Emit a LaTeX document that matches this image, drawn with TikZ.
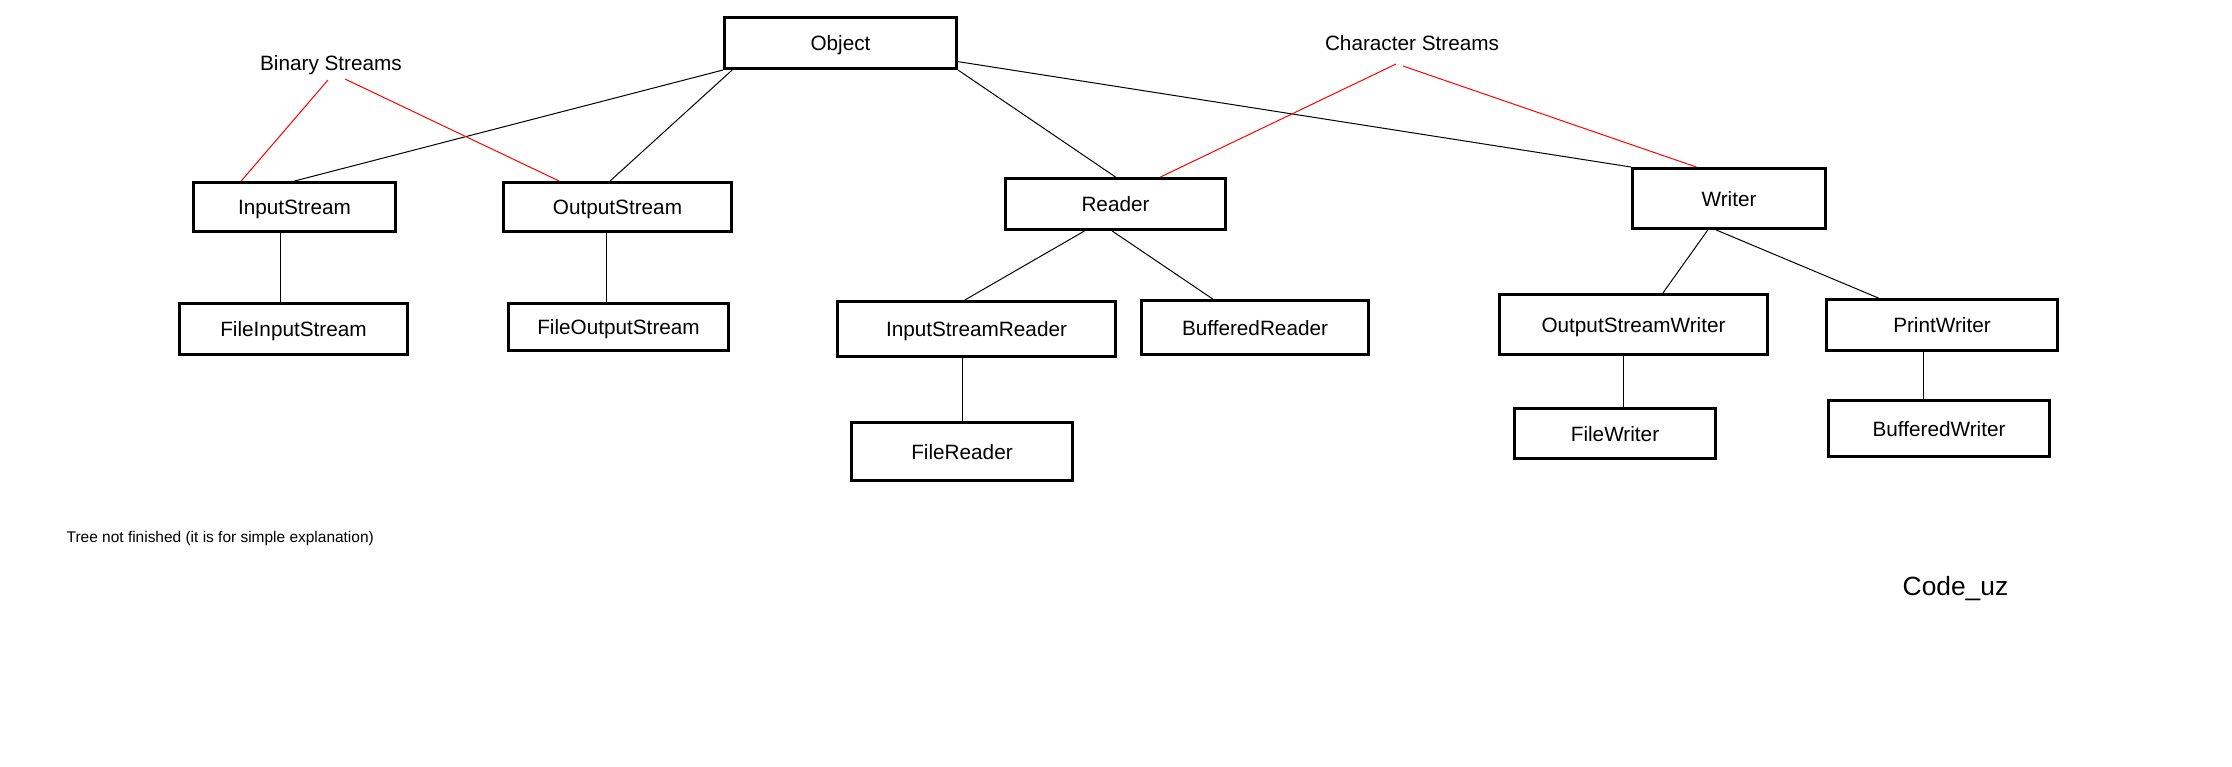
\documentclass[tikz,border=0pt]{standalone}
\usepackage{fontspec}
\setmainfont{Liberation Sans}
\usepackage{tikz}

\begin{document}
\begin{tikzpicture}[x=0.1mm, y=-0.1mm,
		box/.style={draw, line width=0.3mm, inner sep=0pt, text height=1.5mm, text depth=0mm, font=\fontsize{5.9}{7}\selectfont},
		link/.style={line width=0.1mm},
		redlink/.style={red, line width=0.1mm},
		note/.style={inner sep=0pt, anchor=base, font=\fontsize{5.9}{7}\selectfont}]
				\useasboundingbox (0,0) rectangle (2232,766);

				% top of the tree
				\draw (840.5,43) node[box, minimum width=23.2mm, minimum height=5.1mm] (object) {Object};

				% byte side
				\draw (294.5,207) node[box, minimum width=20.2mm, minimum height=4.9mm] (instream) {InputStream};
				\draw (617.5,207) node[box, minimum width=22.8mm, minimum height=4.9mm] (outstream) {OutputStream};
				\draw (293.5,329) node[box, minimum width=22.8mm, minimum height=5.1mm] (fistream) {FileInputStream};
				\draw (618.5,327) node[box, minimum width=22mm, minimum height=4.7mm] (fostream) {FileOutputStream};

				% char side
				\draw (1115.5,204) node[box, minimum width=22mm, minimum height=5.1mm] (reader) {Reader};
				\draw (976.5,329) node[box, minimum width=27.8mm, minimum height=5.5mm] (isreader) {InputStreamReader};
				\draw (1255,327.5) node[box, minimum width=22.7mm, minimum height=5.4mm] (breader) {BufferedReader};
				\draw (962,451.5) node[box, minimum width=22.1mm, minimum height=5.8mm] (freader) {FileReader};

				\draw (1729,198.5) node[box, minimum width=19.3mm, minimum height=6mm] (writer) {Writer};
				\draw (1633.5,324.5) node[box, minimum width=26.8mm, minimum height=6mm] (oswriter) {OutputStreamWriter};
				\draw (1942,325) node[box, minimum width=23.1mm, minimum height=5.1mm] (pwriter) {PrintWriter};
				\draw (1615,433.5) node[box, minimum width=20.1mm, minimum height=5mm] (fwriter) {FileWriter};
				\draw (1939,428.5) node[box, minimum width=22.1mm, minimum height=5.6mm] (bwriter) {BufferedWriter};

				% labels
				\draw (331,70) node[note] (binlabel) {Binary Streams};
				\draw (1412,50) node[note] (charlabel) {Character Streams};
				\draw (66,542) node[note, anchor=base west, font=\fontsize{4.4}{5}\selectfont] (treenote) {Tree not finished (it is for simple explanation)};
				\draw (1902,595) node[note, anchor=base west, font=\fontsize{7.5}{9}\selectfont] (author) {Code\_uz};

				% links
				\draw[link] (object.south west) -- (instream.north);
				\draw[link] (object.194) -- (outstream.106);
				\draw[link] (object.south east) -- (reader.north);
				\draw[link] (object.-9) -- (writer.north west);

				\draw[link] ([xshift=-1.45mm]instream.south) -- ([xshift=-1.45mm]instream.south |- fistream.north);
				\draw[link] ([xshift=-1.15mm]outstream.south) -- ([xshift=-1.15mm]outstream.south |- fostream.north);

				\draw[link] (reader.221) -- (isreader.112);
				\draw[link] (reader.263) -- (breader.146);
				\draw[link] (isreader.south -| freader.north) -- (freader.north);

				\draw[link] (writer.236) -- (oswriter.47);
				\draw[link] (writer.248) -- (pwriter.157);
				\draw[link] ([xshift=0.85mm]fwriter.north |- oswriter.south) -- ([xshift=0.85mm]fwriter.north);
				\draw[link] ([xshift=-1.6mm]bwriter.north |- pwriter.south) -- ([xshift=-1.6mm]bwriter.north);

				% red groups
				\draw[redlink] ([shift={(-3,10)}]binlabel.base) -- (instream.154);
				\draw[redlink] ([shift={(14,9)}]binlabel.base) -- (outstream.156);
				\draw[redlink] ([shift={(-16,14)}]charlabel.base) -- (reader.31);
				\draw[redlink] ([shift={(-9,16)}]charlabel.base) -- (writer.136);
\end{tikzpicture}
\end{document}
